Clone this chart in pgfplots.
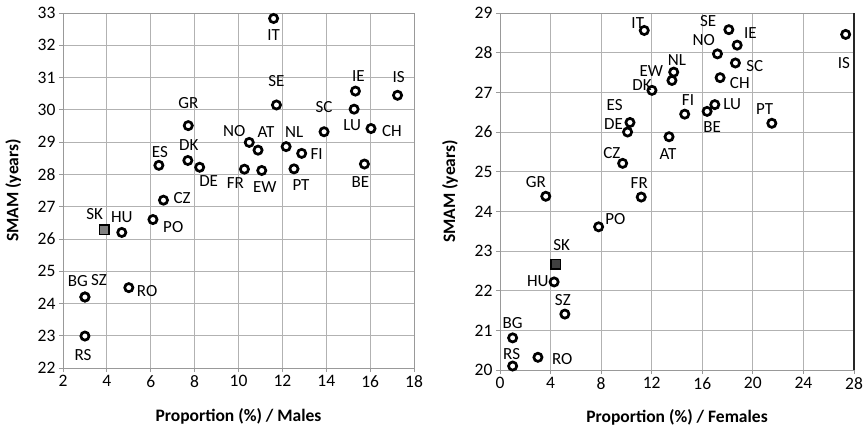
\documentclass[border=0pt]{standalone}
\usepackage{fontspec}
\setmainfont{Carlito}
\usepackage{pgfplots}
\usepackage{pgfplotstable}
\pgfplotsset{compat=1.18}

% Males
\pgfplotstableread{
x y label dx dy
11.6 32.83 IT 0 -16.7
15.33 30.58 IE 3 15
17.25 30.45 IS 1 18
11.73 30.15 SE 0 24
15.27 30.02 LU -2 -15.7
13.9 29.32 SC 0 24.4
16.04 29.42 CH 21 -2.4
7.71 29.51 GR 0 22.7
10.49 28.99 NO -15 11.6
10.89 28.75 AT 8 18
12.17 28.86 NL 8 14.7
12.88 28.65 FI 15 -1
7.69 28.43 DK 1 15.3
8.23 28.22 DE 9 -13.7
6.37 28.28 ES 1 13.6
10.27 28.16 FR -9 -13.4
11.06 28.12 EW 3 -17
12.53 28.17 PT 7 -16
15.74 28.32 BE -4 -17.7
6.58 27.2 CZ 18.6 2.6
6.1 26.6 PO 20.3 -7.4
4.68 26.2 HU 0 15.6
5.0 24.49 RO 18.3 -3.4
3.0 24.2 BG -7 15.7
3.0 24.2 SZ 14 16.7
3.0 22.99 RS -2 -19.3
}\males
\pgfplotstableread{
x y label dx dy
3.89 26.28 SK -9.7 15.7
}\malesSK

% Females
\pgfplotstableread{
x y label dx dy
11.41 28.56 IT -6.5 7
18.1 28.58 SE -20.7 8.7
18.76 28.19 IE 13.3 11.7
27.34 28.46 IS -1.7 -29
17.2 27.97 NO -13.7 13.7
18.62 27.74 SC 19.3 -2.7
13.74 27.51 NL 3.3 12.3
13.6 27.3 EW -20.7 9
17.41 27.37 CH 19.7 -5.3
12.02 27.05 DK -10 5
14.61 26.45 FI 3.3 14
16.99 26.69 LU 17.3 1
16.38 26.52 BE 5 -15.7
21.5 26.22 PT -7.3 14.7
10.28 26.24 ES -15.3 17.3
10.09 26.0 DE -14 7.7
13.37 25.88 AT -1 -17.3
9.7 25.21 CZ -10.7 10
3.62 24.38 GR -10 14.3
11.17 24.36 FR -2 13.7
7.8 23.61 PO 16.7 7.3
4.28 22.22 HU -16.3 1.3
5.13 21.41 SZ -2 14
1.0 20.81 BG 0 15
3.0 20.32 RO 24.3 -2
1.0 20.1 RS -1 11.7
}\females
\pgfplotstableread{
x y label dx dy
4.41 22.66 SK 6 19.3
}\femalesSK

\pgfplotsset{
  myaxis/.style={
    scale only axis,
    grid=major,
    grid style={black!30, line width=0.8pt},
    axis line style={black!40, line width=0.8pt},
    tick style={black!40, line width=0.8pt},
    tick align=outside,
    major tick length=4pt,
    xtick pos=lower, ytick pos=left,
    ticklabel style={font=\fontsize{17.5}{20}\selectfont},
    label style={font=\bfseries\fontsize{17.5}{20}\selectfont},
    /pgf/number format/assume math mode=true,
    clip=false,
  },
  lab/.style={
    only marks,
    point meta=explicit symbolic,
    nodes near coords,
    visualization depends on={\thisrow{dx}\as\dx},
    visualization depends on={\thisrow{dy}\as\dy},
    every node near coord/.append style={anchor=center, xshift=\dx pt, yshift=\dy pt,
      font=\fontsize{17}{19}\selectfont, inner sep=0pt, text=black},
  },
  circ/.style={lab, mark=*, mark size=4.1pt, mark options={draw=black, fill=white, line width=2.7pt}},
}

\begin{document}
\begin{tikzpicture}
\path[use as bounding box] (-63pt,-63pt) rectangle (801pt,368pt);
\begin{axis}[myaxis,
  at={(0pt,0pt)}, anchor=south west,
  width=351pt, height=355pt,
  xmin=2, xmax=18, ymin=22, ymax=33,
  xtick={2,4,...,18}, ytick={22,23,...,33},
  xlabel={Proportion (\%) / Males},
  ylabel={SMAM (years)},
  xlabel style={at={(axis description cs:0.5,-0.135)}, anchor=center},
  ylabel style={at={(axis description cs:-0.142,0.5)}, anchor=center},
]
\addplot[circ] table[meta=label] {\males};
\addplot[lab, mark=square*, mark size=4.8pt, mark options={draw=black, fill=black!50, line width=1.6pt}] table[meta=label] {\malesSK};
\end{axis}
\begin{axis}[myaxis,
  at={(437pt,-2pt)}, anchor=south west,
  width=354pt, height=357pt,
  xmin=0, xmax=28, ymin=20, ymax=29,
  xtick={0,4,...,28}, ytick={20,21,...,29},
  xlabel={Proportion (\%) / Females},
  ylabel={SMAM (years)},
  xlabel style={at={(axis description cs:0.5,-0.134)}, anchor=center},
  ylabel style={at={(axis description cs:-0.141,0.5)}, anchor=center},
]
\draw[black!85, line width=2pt] (rel axis cs:1,0) -- (rel axis cs:1,1);
\addplot[circ] table[meta=label] {\females};
\addplot[lab, mark=square*, mark size=4.8pt, mark options={draw=black, fill=black!75, line width=1.6pt}] table[meta=label] {\femalesSK};
\end{axis}
\end{tikzpicture}
\end{document}
